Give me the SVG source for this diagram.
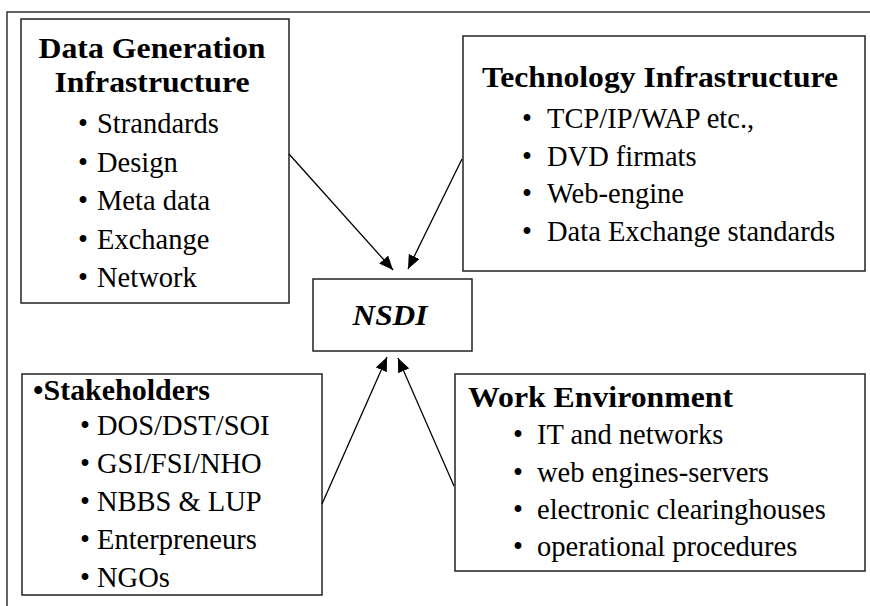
<svg xmlns="http://www.w3.org/2000/svg" width="870" height="606" viewBox="0 0 870 606">
<style>
.box{fill:#fff;stroke:#222;stroke-width:1.5}
.frame{fill:none;stroke:#333;stroke-width:1.5}
.t{font-family:"Liberation Serif","Times New Roman",serif;font-size:28.5px;fill:#000}
.b{font-family:"Liberation Serif","Times New Roman",serif;font-size:29px;font-weight:bold;fill:#000}
.c{stroke:#000;stroke-width:1.3;fill:none;marker-end:url(#ah)}
</style>
<defs>
<marker id="ah" markerWidth="14" markerHeight="12" viewBox="0 0 14 12" refX="14" refY="6" orient="auto" markerUnits="userSpaceOnUse">
<path d="M0,0 L14,6 L0,12 Z" fill="#000"/>
</marker>
</defs>
<rect width="870" height="606" fill="#fff"/>
<path class="frame" d="M7,606 V12 H870"/>
<g id="dgi">
<rect class="box" x="21" y="19" width="268" height="284"/>
<text class="b" x="152" y="58" text-anchor="middle" textLength="227" lengthAdjust="spacingAndGlyphs">Data Generation</text>
<text class="b" x="152" y="92" text-anchor="middle" textLength="195" lengthAdjust="spacingAndGlyphs">Infrastructure</text>
<text class="t" x="78" y="133">•</text><text class="t" x="97" y="133">Strandards</text>
<text class="t" x="78" y="171.5">•</text><text class="t" x="97" y="171.5">Design</text>
<text class="t" x="78" y="210">•</text><text class="t" x="97" y="210">Meta data</text>
<text class="t" x="78" y="248.5">•</text><text class="t" x="97" y="248.5">Exchange</text>
<text class="t" x="78" y="287">•</text><text class="t" x="97" y="287">Network</text>
</g>
<g id="tech">
<rect class="box" x="463" y="36" width="402" height="235"/>
<text class="b" x="482" y="87" textLength="356" lengthAdjust="spacingAndGlyphs">Technology Infrastructure</text>
<text class="t" x="522" y="128">•</text><text class="t" x="547" y="128">TCP/IP/WAP etc.,</text>
<text class="t" x="522" y="165.5">•</text><text class="t" x="547" y="165.5">DVD firmats</text>
<text class="t" x="522" y="203">•</text><text class="t" x="547" y="203">Web-engine</text>
<text class="t" x="522" y="240.5">•</text><text class="t" x="547" y="240.5">Data Exchange standards</text>
</g>
<g id="nsdi">
<rect class="box" x="313" y="279" width="159" height="72"/>
<text class="b" x="390" y="325" text-anchor="middle" font-style="italic" textLength="75" lengthAdjust="spacingAndGlyphs">NSDI</text>
</g>
<g id="stakeholders">
<rect class="box" x="22" y="374" width="300" height="221"/>
<text class="b" x="33" y="400" textLength="177" lengthAdjust="spacingAndGlyphs">•Stakeholders</text>
<text class="t" x="80" y="435">•</text><text class="t" x="97" y="435">DOS/DST/SOI</text>
<text class="t" x="80" y="473">•</text><text class="t" x="97" y="473">GSI/FSI/NHO</text>
<text class="t" x="80" y="511">•</text><text class="t" x="97" y="511">NBBS &amp; LUP</text>
<text class="t" x="80" y="549">•</text><text class="t" x="97" y="549">Enterpreneurs</text>
<text class="t" x="80" y="587">•</text><text class="t" x="97" y="587">NGOs</text>
</g>
<g id="work">
<rect class="box" x="455" y="374" width="410" height="197"/>
<text class="b" x="468" y="407" textLength="265" lengthAdjust="spacingAndGlyphs">Work Environment</text>
<text class="t" x="513" y="444">•</text><text class="t" x="537" y="444">IT and networks</text>
<text class="t" x="513" y="481.5">•</text><text class="t" x="537" y="481.5">web engines-servers</text>
<text class="t" x="513" y="518.5">•</text><text class="t" x="537" y="518.5">electronic clearinghouses</text>
<text class="t" x="513" y="556">•</text><text class="t" x="537" y="556">operational procedures</text>
</g>
<g id="connectors">
<line class="c" x1="289" y1="154" x2="393" y2="270"/>
<line class="c" x1="462" y1="159" x2="408" y2="269"/>
<line class="c" x1="322" y1="504" x2="387" y2="357"/>
<line class="c" x1="454" y1="486" x2="398" y2="358"/>
</g>
</svg>
